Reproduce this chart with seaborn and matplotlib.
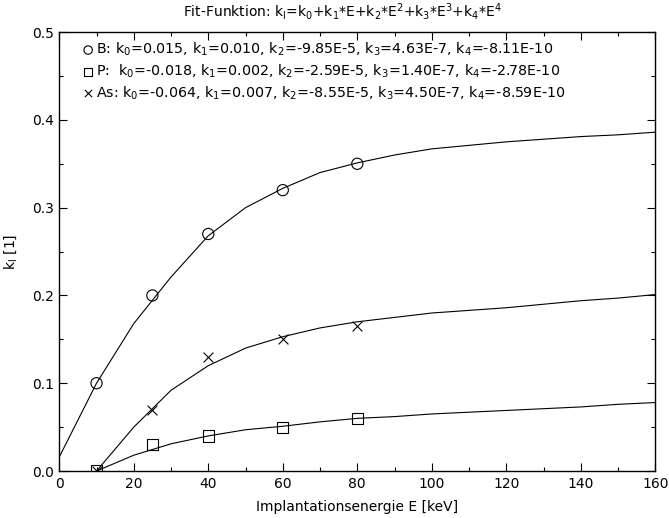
import numpy as np
import matplotlib
matplotlib.use("Agg")
import matplotlib.pyplot as plt
import pandas as pd
import seaborn as sns

# measured points
energy = [10, 25, 40, 60, 80]
k_B = [0.10, 0.20, 0.27, 0.32, 0.35]
k_P = [0.00, 0.03, 0.04, 0.05, 0.06]
k_As = [0.00, 0.07, 0.13, 0.15, 0.165]

# fit curves (every 10 keV)
E_fit_B = [0, 10, 20, 30, 40, 50, 60, 70, 80, 90, 100, 110, 120, 130, 140, 150, 160]
fit_B = [0.016, 0.100, 0.168, 0.221, 0.268, 0.300, 0.322, 0.340, 0.351, 0.360,
         0.367, 0.371, 0.375, 0.378, 0.381, 0.383, 0.386]
E_fit_PAs = [10, 20, 30, 40, 50, 60, 70, 80, 90, 100, 110, 120, 130, 140, 150, 160]
fit_As = [0.000, 0.050, 0.092, 0.120, 0.140, 0.153, 0.163, 0.170, 0.175, 0.180,
          0.183, 0.186, 0.190, 0.194, 0.197, 0.201]
fit_P = [0.000, 0.018, 0.031, 0.040, 0.047, 0.051, 0.056, 0.060, 0.062, 0.065,
         0.067, 0.069, 0.071, 0.073, 0.076, 0.078]

labels = {
    "B": "B: k$_0$=0.015, k$_1$=0.010, k$_2$=-9.85E-5, k$_3$=4.63E-7, k$_4$=-8.11E-10",
    "P": "P:  k$_0$=-0.018, k$_1$=0.002, k$_2$=-2.59E-5, k$_3$=1.40E-7, k$_4$=-2.78E-10",
    "As": "As: k$_0$=-0.064, k$_1$=0.007, k$_2$=-8.55E-5, k$_3$=4.50E-7, k$_4$=-8.59E-10",
}
markers = {"B": "o", "P": "s", "As": "x"}

sns.set_theme(style="ticks")
plt.rcParams['font.family'] = ['DejaVu Sans']
plt.rcParams['mathtext.default'] = 'regular'
plt.rcParams['font.size'] = 10
plt.rcParams['text.color'] = 'black'
plt.rcParams['axes.labelcolor'] = 'black'

fig = plt.figure(figsize=(6.69, 5.18), dpi=100)
ax = fig.add_axes([0.0886, 0.0907, 0.8909, 0.8473])

# curves
for E, y in [(E_fit_B, fit_B), (E_fit_PAs, fit_P), (E_fit_PAs, fit_As)]:
    sns.lineplot(x=E, y=y, ax=ax, color="black", linewidth=0.8, legend=False)

# points
pts = {"B": k_B, "P": k_P, "As": k_As}
for name in ["B", "P", "As"]:
    m = markers[name]
    if m == "x":
        sns.scatterplot(x=energy, y=pts[name], ax=ax, marker="x", s=50,
                        color="black", linewidth=0.8, label=labels[name])
    else:
        sns.scatterplot(x=energy, y=pts[name], ax=ax, marker=m, s=65,
                        facecolor="none", edgecolor="black", linewidth=0.8,
                        label=labels[name])

ax.set_xlim(0, 160)
ax.set_ylim(0, 0.5)
ax.set_xticks(np.arange(0, 161, 20))
ax.set_xticks(np.arange(0, 161, 10), minor=True)
ax.set_yticks(np.arange(0, 0.51, 0.1))
ax.set_yticks(np.arange(0, 0.51, 0.05), minor=True)
ax.set_yticklabels([f"{v:.1f}" for v in np.arange(0, 0.51, 0.1)])
ax.tick_params(which="both", direction="in", top=True, right=True, colors="black",
               labelsize=10, width=0.8)
ax.tick_params(which="major", length=6, pad=4)
ax.tick_params(which="minor", length=3)
for s in ax.spines.values():
    s.set_color("black")
    s.set_linewidth(1.0)

ax.set_xlabel("Implantationsenergie E [keV]", fontsize=10, labelpad=7)
ax.set_ylabel("k$_l$ [1]", fontsize=10, labelpad=9)
fig.suptitle("Fit-Funktion: k$_l$=k$_0$+k$_1$*E+k$_2$*E$^2$+k$_3$*E$^3$+k$_4$*E$^4$",
             fontsize=10, x=0.511, y=0.998)

ax.legend(loc="upper left", bbox_to_anchor=(0.034, 0.99), frameon=False,
          handletextpad=0.25, labelspacing=0.3, borderaxespad=0, borderpad=0.3,
          handlelength=0.6, markerscale=0.75, fontsize=10.3)

fig.savefig("out.png", dpi=100)
